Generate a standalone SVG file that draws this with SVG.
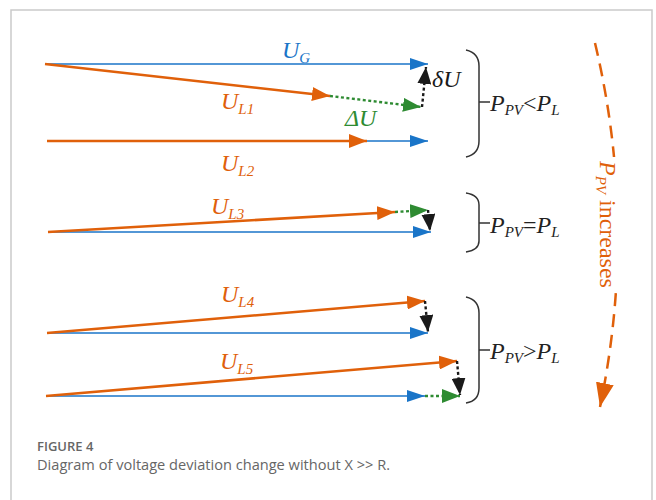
<svg xmlns="http://www.w3.org/2000/svg" width="656" height="500" viewBox="0 0 656 500">
<style>
.bl{stroke:#1a75c8;stroke-width:1.6;fill:none}
.or{stroke:#e0600a;stroke-width:2.6;fill:none}
.gr{stroke:#2e8b32;stroke-width:2.4;fill:none;stroke-dasharray:3 2.5}
.bk{stroke:#1a1a1a;stroke-width:2.4;fill:none;stroke-dasharray:3 2.5}
.br{stroke:#333;stroke-width:1.5;fill:none}
.lab{font-family:"Liberation Serif",serif;font-style:italic;font-size:24px}
.sub{font-size:15px}
.cap{font-family:"Open Sans","Liberation Sans",sans-serif;fill:#666}
</style>
<defs>
<marker id="hb" markerUnits="userSpaceOnUse" markerWidth="18" markerHeight="12" refX="18" refY="6" orient="auto"><path d="M0,0 L18,6 L0,12 z" fill="#1a75c8"/></marker>
<marker id="ho" markerUnits="userSpaceOnUse" markerWidth="18" markerHeight="14" refX="18" refY="7" orient="auto"><path d="M0,0 L18,7 L0,14 z" fill="#e0600a"/></marker>
<marker id="hg" markerUnits="userSpaceOnUse" markerWidth="18" markerHeight="14" refX="18" refY="7" orient="auto"><path d="M0,0 L18,7 L0,14 z" fill="#2e8b32"/></marker>
<marker id="hk" markerUnits="userSpaceOnUse" markerWidth="17" markerHeight="14" refX="17" refY="7" orient="auto"><path d="M0,0 L17,7 L0,14 z" fill="#1a1a1a"/></marker>
<marker id="hbig" markerUnits="userSpaceOnUse" markerWidth="24" markerHeight="18" refX="24" refY="9" orient="auto"><path d="M0,0 L24,9 L0,18 z" fill="#e0600a"/></marker>
</defs>
<rect x="11" y="10" width="641" height="510" fill="#fff" stroke="#cacaca" stroke-width="1.5"/>

<g id="connectors">
<line class="bl" x1="45" y1="64" x2="428" y2="64" marker-end="url(#hb)"/>
<line class="or" x1="45" y1="64" x2="330" y2="96" marker-end="url(#ho)"/>
<line class="gr" x1="330" y1="96" x2="421" y2="107" marker-end="url(#hg)"/>
<line class="bk" x1="422" y1="107" x2="426" y2="67" marker-end="url(#hk)"/>
<line class="bl" x1="47" y1="141" x2="428" y2="141" marker-end="url(#hb)"/>
<line class="or" x1="47" y1="141" x2="367" y2="141" marker-end="url(#ho)"/>
<line class="bl" x1="48" y1="232" x2="431" y2="232" marker-end="url(#hb)"/>
<line class="or" x1="48" y1="232" x2="395" y2="212" marker-end="url(#ho)"/>
<line class="gr" x1="395" y1="212" x2="428" y2="210" marker-end="url(#hg)"/>
<line class="bk" x1="428" y1="210" x2="430" y2="231" marker-end="url(#hk)"/>
<line class="bl" x1="47" y1="333" x2="428" y2="333" marker-end="url(#hb)"/>
<line class="or" x1="47" y1="333" x2="425" y2="301" marker-end="url(#ho)"/>
<line class="bk" x1="425" y1="301" x2="428" y2="332" marker-end="url(#hk)"/>
<line class="bl" x1="46" y1="396" x2="425" y2="396" marker-end="url(#hb)"/>
<line class="gr" x1="425" y1="396" x2="460" y2="396" marker-end="url(#hg)"/>
<line class="or" x1="46" y1="396" x2="457" y2="361" marker-end="url(#ho)"/>
<line class="bk" x1="457" y1="361" x2="460" y2="395" marker-end="url(#hk)"/>
<path d="M595,43 Q638,224 600,407" fill="none" stroke="#e0600a" stroke-width="2.5" stroke-dasharray="13 8" marker-end="url(#hbig)"/>
</g>

<g id="labels">
<text class="lab" x="282" y="58" fill="#1a75c8">U<tspan class="sub" dy="5">G</tspan></text>
<text class="lab" x="221" y="109" fill="#e0600a">U<tspan class="sub" dy="5">L1</tspan></text>
<text class="lab" x="221" y="171" fill="#e0600a">U<tspan class="sub" dy="5">L2</tspan></text>
<text class="lab" x="211" y="214" fill="#e0600a">U<tspan class="sub" dy="5">L3</tspan></text>
<text class="lab" x="221" y="302" fill="#e0600a">U<tspan class="sub" dy="5">L4</tspan></text>
<text class="lab" x="220" y="369" fill="#e0600a">U<tspan class="sub" dy="5">L5</tspan></text>
<text class="lab" x="432" y="87" fill="#1a1a1a">δU</text>
<text class="lab" x="345" y="126" fill="#2e8b32">ΔU</text>
</g>

<g id="brace1">
<path class="br" d="M466,50 Q479,53 479,66 L479,141 Q479,154 466,157 M479,102 L490,102"/>
<text class="lab" x="490" y="111" fill="#222">P<tspan class="sub" dy="4">PV</tspan><tspan dy="-4" font-style="normal">&lt;</tspan>P<tspan class="sub" dy="4">L</tspan></text>
</g>
<g id="brace2">
<path class="br" d="M466,193 Q479,195 479,205 L479,241 Q479,250 466,252 M479,223 L490,223"/>
<text class="lab" x="490" y="233" fill="#222">P<tspan class="sub" dy="4">PV</tspan><tspan dy="-4" font-style="normal">=</tspan>P<tspan class="sub" dy="4">L</tspan></text>
</g>
<g id="brace3">
<path class="br" d="M466,297 Q479,300 479,313 L479,388 Q479,401 466,403 M479,350 L490,350"/>
<text class="lab" x="490" y="359" fill="#222">P<tspan class="sub" dy="4">PV</tspan><tspan dy="-4" font-style="normal">&gt;</tspan>P<tspan class="sub" dy="4">L</tspan></text>
</g>

<g id="trend-label">
<rect x="596" y="157" width="32" height="134" fill="#fff"/>
<text class="lab" transform="translate(600,161) rotate(90)" fill="#e0600a">P<tspan class="sub" dy="4">PV</tspan><tspan dy="-4" font-style="normal"> increases</tspan></text>
</g>

<g id="caption">
<text class="cap" x="37" y="451" font-size="13" font-weight="600">FIGURE 4</text>
<text class="cap" x="37" y="470" font-size="15" fill="#5f5f5f" textLength="353" lengthAdjust="spacingAndGlyphs">Diagram of voltage deviation change without X &gt;&gt; R.</text>
</g>
</svg>
